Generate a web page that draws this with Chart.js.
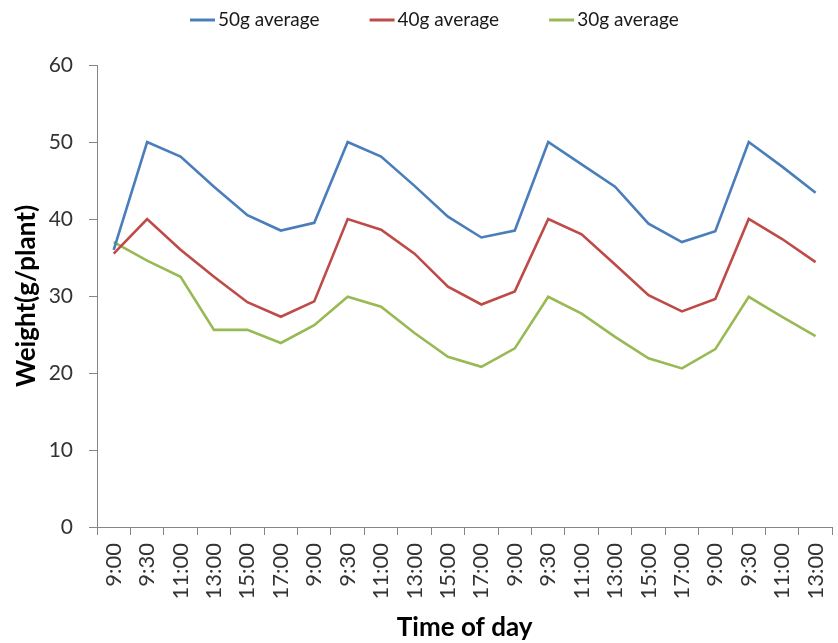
<!DOCTYPE html>
<html>
<head>
<meta charset="utf-8">
<script src="https://cdn.jsdelivr.net/npm/chart.js@4/dist/chart.umd.min.js"></script>
<style>
  html, body { margin: 0; padding: 0; background: #fff; width: 838px; height: 643px; overflow: hidden; }
  #wrap { position: relative; width: 850px; height: 643px; }
</style>
</head>
<body>
<div id="wrap"><canvas id="c" width="850" height="643"></canvas></div>
<script>
// Sampling times over four days
const timeLabels = [
  '9:00', '9:30', '11:00', '13:00', '15:00', '17:00',
  '9:00', '9:30', '11:00', '13:00', '15:00', '17:00',
  '9:00', '9:30', '11:00', '13:00', '15:00', '17:00',
  '9:00', '9:30', '11:00', '13:00'
];

// Average plant weight (g/plant) per watering treatment
const avg50 = [36.0, 50.0, 48.1, 44.2, 40.5, 38.5, 39.5, 50.0, 48.1, 44.3, 40.3, 37.6, 38.5, 50.0, 47.1, 44.2, 39.4, 37.0, 38.4, 50.0, 46.8, 43.4];
const avg40 = [35.5, 40.0, 36.0, 32.5, 29.2, 27.3, 29.3, 40.0, 38.6, 35.5, 31.2, 28.9, 30.6, 40.0, 38.0, 34.1, 30.1, 28.0, 29.6, 40.0, 37.4, 34.4];
const avg30 = [37.0, 34.6, 32.5, 25.6, 25.6, 23.9, 26.2, 29.9, 28.6, 25.2, 22.1, 20.8, 23.2, 29.9, 27.7, 24.7, 21.9, 20.6, 23.1, 29.9, 27.3, 24.8];

const seriesNames = ['50g average', '40g average', '30g average'];
const seriesColors = ['#4a7ebb', '#be4b48', '#98b954'];

// Legend row above the plot: short line sample followed by the series name
const legendRow = {
  id: 'legendRow',
  afterDraw(chart) {
    const ctx = chart.ctx;
    ctx.save();
    ctx.font = '19px Lato';
    ctx.textBaseline = 'middle';
    ctx.textAlign = 'left';
    let x = 190;
    const y = 20;
    chart.data.datasets.forEach(ds => {
      ctx.strokeStyle = ds.borderColor;
      ctx.lineWidth = 3;
      ctx.beginPath();
      ctx.moveTo(x, y);
      ctx.lineTo(x + 25, y);
      ctx.stroke();
      ctx.fillStyle = '#1a1a1a';
      ctx.fillText(ds.label, x + 28, y);
      x += 28 + ctx.measureText(ds.label).width + 50;
    });
    ctx.restore();
  }
};

const seriesValues = [avg50, avg40, avg30];

new Chart(document.getElementById('c'), {
  type: 'line',
  data: {
    labels: timeLabels,
    datasets: seriesValues.map((vals, i) => ({
      label: seriesNames[i],
      data: vals,
      borderColor: seriesColors[i],
      backgroundColor: seriesColors[i],
      fill: false
    }))
  },
  options: {
    responsive: false,
    animation: false,
    devicePixelRatio: 1,
    layout: { padding: { top: 65, left: 0, right: 0, bottom: 0 } },
    plugins: { legend: { display: false }, tooltip: { enabled: false } },
    elements: {
      line: { tension: 0, borderWidth: 2.6 },
      point: { radius: 0, hoverRadius: 0 }
    },
    scales: {
      x: {
        type: 'category',
        offset: true,
        grid: { offset: true, drawOnChartArea: false, drawTicks: true, tickLength: 8, color: '#868686' },
        border: { color: '#868686' },
        ticks: {
          autoSkip: false, maxRotation: 90, minRotation: 90, padding: 8,
          color: '#333333', font: { family: 'Lato', size: 22 }
        },
        title: {
          display: true, text: 'Time of day', color: '#000',
          font: { family: 'Lato', size: 26, weight: 'bold' },
          padding: { top: 0, bottom: 0 }
        },
        afterFit(scale) { scale.height = 116; }
      },
      y: {
        min: 0, max: 60,
        ticks: { stepSize: 10, padding: 16, color: '#333333', font: { family: 'Lato', size: 21 } },
        grid: { drawOnChartArea: false, drawTicks: true, tickLength: 8, color: '#868686' },
        border: { color: '#868686' },
        title: {
          display: true, text: 'Weight(g/plant)', color: '#000',
          font: { family: 'Lato', size: 26, weight: 'bold' },
          padding: { top: 11, bottom: 0 }
        },
        afterFit(scale) { scale.width = 97; }
      }
    }
  },
  plugins: [legendRow]
});
</script>
</body>
</html>
